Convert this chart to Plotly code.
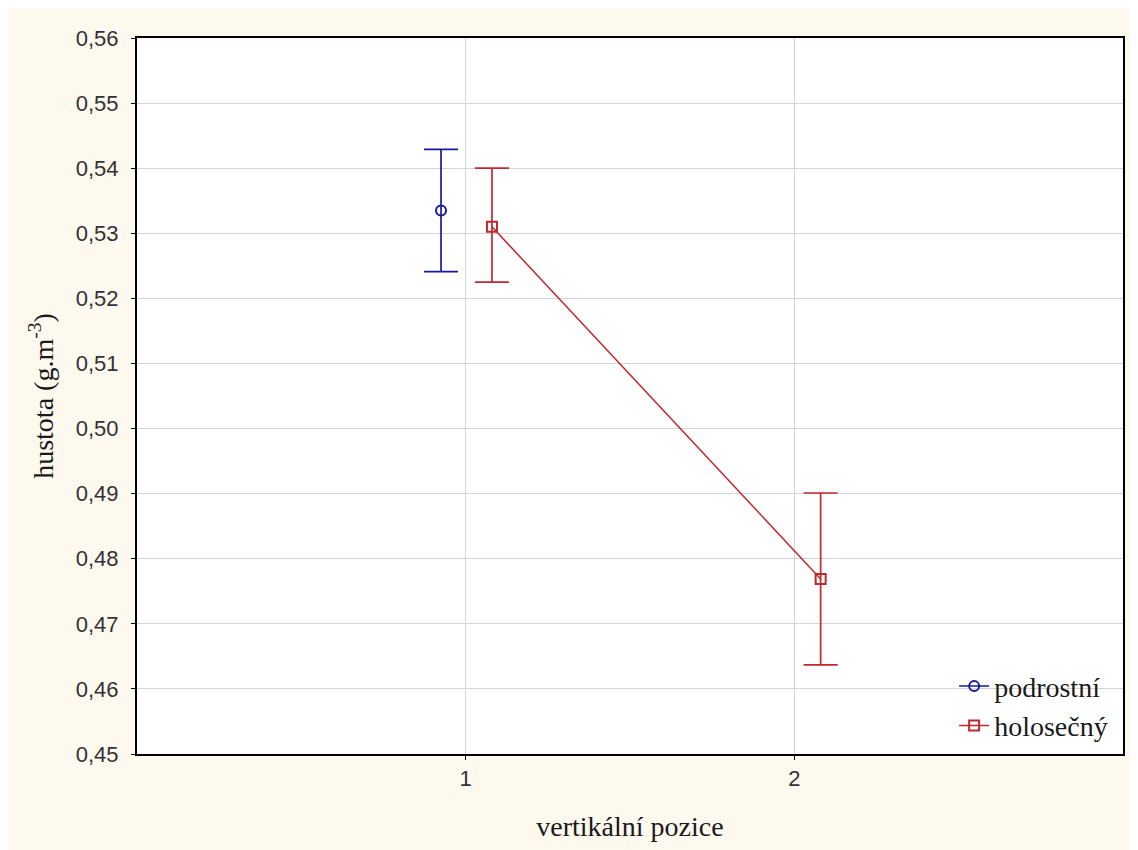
import plotly.graph_objects as go

# Data
positions = [1, 2]
series_names = ["podrostní", "holosečný"]
podrostni_mean = [0.5335, None]
podrostni_upper = [0.5429, None]
podrostni_lower = [0.5241, None]
holosecny_mean = [0.5310, 0.4769]
holosecny_upper = [0.5400, 0.4901]
holosecny_lower = [0.5225, 0.4637]
offsets = [-0.075, 0.08]
y_ticks = [0.45, 0.46, 0.47, 0.48, 0.49, 0.50, 0.51, 0.52, 0.53, 0.54, 0.55, 0.56]

colors = ["#1a1a9a", "#c0282e"]
symbols = ["circle-open", "square-open"]

fig = go.Figure()
for name, mean, up, lo, off, col, sym in [
    (series_names[0], podrostni_mean, podrostni_upper, podrostni_lower, offsets[0], colors[0], symbols[0]),
    (series_names[1], holosecny_mean, holosecny_upper, holosecny_lower, offsets[1], colors[1], symbols[1]),
]:
    xs, ys, ep, em = [], [], [], []
    for p, m, u, l in zip(positions, mean, up, lo):
        if m is None:
            continue
        xs.append(p + off)
        ys.append(m)
        ep.append(u - m)
        em.append(m - l)
    fig.add_trace(go.Scatter(
        x=xs, y=ys, name=name, mode="lines+markers",
        line=dict(color=col, width=1.5),
        marker=dict(symbol=sym, size=10, color=col, line=dict(color=col, width=2)),
        error_y=dict(type="data", symmetric=False, array=ep, arrayminus=em,
                     color=col, thickness=1.7, width=17),
    ))

fig.update_layout(
    width=1130, height=842,
    margin=dict(l=129, r=15, t=30, b=96),
    paper_bgcolor="#FDF9EF",
    plot_bgcolor="white",
    showlegend=True,
    legend=dict(x=0.99, y=0.005, xanchor="right", yanchor="bottom",
                bgcolor="rgba(255,255,255,0)",
                font=dict(family="Liberation Serif", size=28, color="#1a1a1a"),
                itemwidth=30, tracegroupgap=0),
    font=dict(family="Liberation Sans", color="#333"),
)
fig.update_xaxes(
    range=[0, 3], tickvals=positions, ticktext=["1", "2"],
    showgrid=True, gridcolor="#D4D4D4", gridwidth=1,
    showline=True, linecolor="black", linewidth=2, mirror=True,
    ticks="outside", ticklen=4, tickcolor="black",
    tickfont=dict(family="Liberation Sans", size=22, color="#333"),
    zeroline=False,
    title=dict(text="vertikální pozice", font=dict(family="Liberation Serif", size=28, color="#1a1a1a"), standoff=26),
)
fig.update_yaxes(
    range=[0.45, 0.56], tickvals=y_ticks,
    ticktext=[f"{v:.2f}".replace(".", ",") for v in y_ticks],
    showgrid=True, gridcolor="#D4D4D4", gridwidth=1,
    showline=True, linecolor="black", linewidth=2, mirror=True,
    ticks="outside", ticklen=4, tickcolor="black", ticklabelstandoff=8,
    tickfont=dict(family="Liberation Sans", size=22, color="#333"),
    zeroline=False,
    title=dict(text="hustota (g.m<sup>-3</sup>)", font=dict(family="Liberation Serif", size=28, color="#1a1a1a"), standoff=14),
)

fig.write_html("out.html")
